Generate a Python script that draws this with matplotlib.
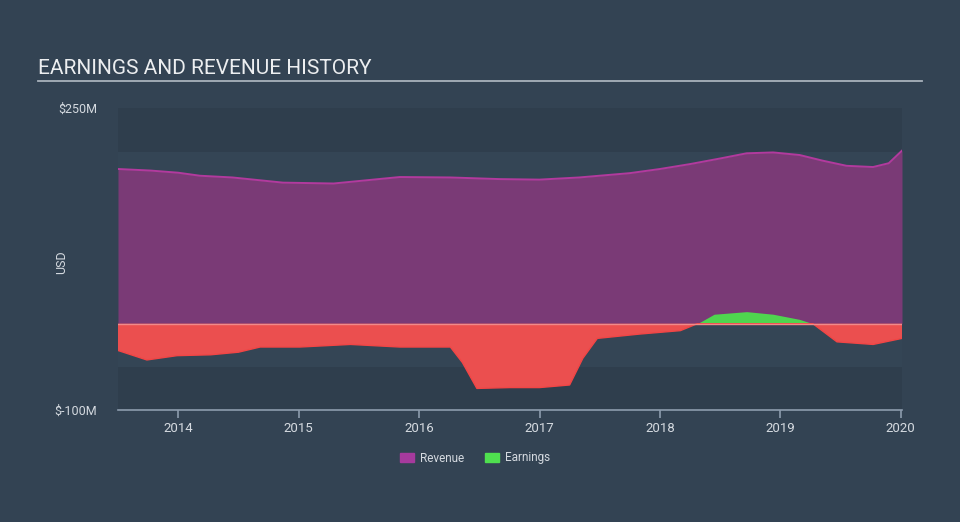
#!/usr/bin/env python3
import matplotlib
matplotlib.use('Agg')
import matplotlib.pyplot as plt
from matplotlib.patches import Patch
import numpy as np

# values in $M, x in fractional years
rev_years = [2013.50, 2013.77, 2014.00, 2014.18, 2014.45, 2014.87, 2015.29, 2015.84,
             2016.26, 2016.67, 2017.00, 2017.33, 2017.75, 2018.00, 2018.25, 2018.50,
             2018.72, 2018.94, 2019.16, 2019.35, 2019.55, 2019.77, 2019.90, 2020.01]
revenue = [179.3, 177.5, 175.0, 171.5, 169.5, 163.5, 162.5, 170.0,
           169.5, 167.6, 167.0, 169.5, 174.5, 179.3, 185.0, 191.5,
           197.5, 198.5, 195.5, 189.0, 183.0, 181.6, 186.0, 200.6]

earn_years = [2013.50, 2013.74, 2013.99, 2014.27, 2014.50, 2014.68, 2015.01, 2015.43,
              2015.84, 2016.26, 2016.36, 2016.48, 2016.75, 2017.00, 2017.25, 2017.36,
              2017.48, 2017.83, 2018.17, 2018.31, 2018.45, 2018.72, 2018.94, 2019.16,
              2019.27, 2019.47, 2019.77, 2020.01]
earnings = [-31, -42, -37, -36, -33, -27, -27, -24,
            -27, -27, -45, -75, -74, -74, -71, -40,
            -17, -12, -8, 0, 11, 14, 11, 5,
            0, -21, -24, -17]

year_ticks = [2014, 2015, 2016, 2017, 2018, 2019, 2020]

bg = '#334353'
fig = plt.figure(figsize=(9.6, 5.22), dpi=100, facecolor=bg)
ax = fig.add_axes([118/960, 1 - 410/522, 784/960, 302/522])
ax.set_facecolor('#344555')
ax.set_xlim(2013.5, 2020.01)
ax.set_ylim(-100, 250)

# slightly darker bands above and below the data range
ax.axhspan(199, 250, color='#2f3e4d', lw=0, zorder=0)
ax.axhspan(-100, -50, color='#2f3e4d', lw=0, zorder=0)

ax.fill_between(rev_years, 0, revenue, color='#7a3a76', lw=0, zorder=1)
ax.plot(rev_years, revenue, color='#b23a9e', lw=1.4, zorder=2)

e = np.array(earnings, dtype=float)
ax.fill_between(earn_years, 0, e, where=e <= 0, interpolate=True,
                color='#eb4f4f', lw=0, zorder=3)
ax.fill_between(earn_years, 0, e, where=e >= 0, interpolate=True,
                color='#4fd54f', lw=0, zorder=3)
ax.plot(earn_years, np.minimum(e, 0), color='#f24545', lw=1.0, zorder=4)
ax.axhline(0, color='#f08a8a', lw=1.0, zorder=4)

for s in ['top', 'right', 'left']:
    ax.spines[s].set_visible(False)
ax.spines['bottom'].set_color('#8d9cae')
ax.spines['bottom'].set_linewidth(1.2)

ax.set_xticks(year_ticks)
ax.set_xticklabels([str(y) for y in year_ticks])
ax.tick_params(axis='x', colors='#8d9cae', labelcolor='#d5dae0', length=6,
               width=1.2, labelsize=9.5, pad=3)
ax.set_yticks([-100, 250])
ax.set_yticklabels(['$-100M', '$250M'])
ax.tick_params(axis='y', length=0, labelcolor='#d5dae0', labelsize=9, pad=15)
for lab in ax.get_xticklabels() + ax.get_yticklabels():
    lab.set_family(['Roboto', 'DejaVu Sans'])

fig.text(62/960, 1 - 262/522, 'USD', rotation=90, ha='center', va='center',
         color='#d5dae0', fontsize=9, family=['Roboto', 'DejaVu Sans'])

fig.text(38/960, 1 - 68/522, 'EARNINGS AND REVENUE HISTORY', ha='left', va='center',
         color='#eceef0', fontsize=15, family=['Roboto', 'DejaVu Sans'])
fig.add_artist(plt.Line2D([38/960, 922/960], [1 - 81/522, 1 - 81/522],
                          color='#a9b2bc', lw=1.3))

handles = [Patch(color='#a63a9d', label='Revenue'),
           Patch(color='#4fe04f', label='Earnings')]
fig.legend(handles=handles, loc='center', bbox_to_anchor=(475/960, 1 - 458/522),
           ncol=2, frameon=False, labelcolor='#d5dae0',
           handlelength=1.2, handleheight=0.9, columnspacing=1.8, handletextpad=0.5,
           prop={'family': ['Roboto', 'DejaVu Sans'], 'size': 8.5})

fig.savefig('out.png', dpi=100, facecolor=bg)
